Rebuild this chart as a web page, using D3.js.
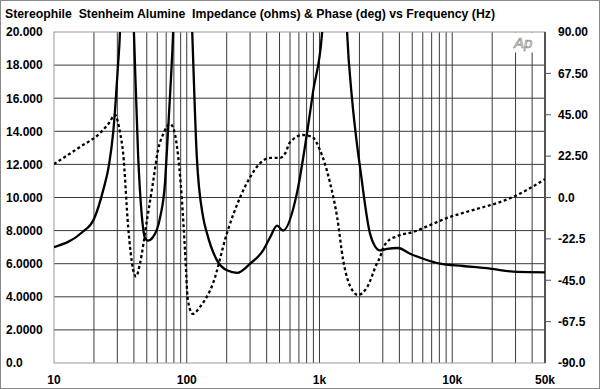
<!DOCTYPE html>
<html>
<head>
<meta charset="utf-8">
<script src="https://cdnjs.cloudflare.com/ajax/libs/d3/7.8.5/d3.min.js"></script>
<style>
  html, body { margin: 0; padding: 0; background: #fff; }
  svg text { font-family: "Liberation Sans", Arial, sans-serif; font-weight: bold; font-size: 12px; fill: #000; }
</style>
</head>
<body>
<svg id="chart" width="600" height="389"></svg>
<script>
// Impedance (ohms), [Hz, ohms]; resonance tops run off the chart
const impedance = [
  [10, 7.0], [16.3, 7.9], [20, 8.7], [23.4, 10.4], [26, 12.0], [27.9, 13.9], [30.3, 17.9],
  [31.4, 20], [33, 28], [35, 33], [37, 28], [40, 20], [43, 12.6], [46, 8.8], [48.5, 7.55],
  [51, 7.4], [55.6, 7.6], [63, 8.8], [68.6, 10.9], [71, 12.9], [75, 16.3], [79, 20],
  [85, 30], [92, 34], [100, 30], [110, 20], [119, 12.5], [133, 8.8], [142, 7.85],
  [169, 6.2], [201, 5.6], [240, 5.45], [300, 6.0], [376, 6.8], [425, 7.6], [479, 8.3],
  [532, 8.0], [678, 10.3], [806, 13.9], [895, 16.4], [1047, 20], [1200, 32], [1300, 36],
  [1450, 32], [1614, 20], [1762, 15.9], [1918, 13.2], [2023, 11.8], [2405, 7.8],
  [2600, 7.1], [2862, 6.8], [3228, 6.9], [3908, 6.95], [4816, 6.6], [6039, 6.3],
  [8113, 6.0], [12080, 5.86], [19300, 5.7], [30840, 5.5], [50000, 5.48]
];

// Phase (deg), [Hz, deg]
const phase = [
  [10, 18.2], [15.7, 27.5], [22.2, 35], [26, 40.5], [28.8, 45], [31.5, 35], [33.2, 24],
  [36.2, -16], [39.4, -39], [41.5, -43], [44.5, -35.6], [50.2, -12.2], [55.6, 7.9],
  [60.8, 25.8], [67, 35], [74.7, 40], [79, 38], [84.5, 27.5], [92, -1.4], [97, -28.5],
  [102, -55.7], [111, -63.3], [126, -59.5], [158, -46.5], [201, -19.3], [252, 0],
  [300, 11], [357, 18.7], [425, 21.5], [505, 21.5], [551, 24], [600, 30], [751, 34],
  [879, 33], [1009, 25.8], [1202, 7.9], [1358, -10.6], [1507, -34], [1762, -50.3],
  [1955, -53], [2286, -48.7], [2718, -35.6], [2862, -32.4], [3015, -27.5], [3228, -24.2],
  [3846, -21], [5072, -18.8], [6808, -15], [9160, -11.1], [12080, -8.4], [16200, -5.7],
  [21800, -3], [28770, 0.3], [38600, 5.1], [50000, 10]
];

const leftTicks = [0, 2, 4, 6, 8, 10, 12, 14, 16, 18, 20];
const leftLabels = ["0.0", "2.0000", "4.0000", "6.0000", "8.0000", "10.000", "12.000", "14.000", "16.000", "18.000", "20.000"];
const rightTicks = [-90, -67.5, -45, -22.5, 0, 22.5, 45, 67.5, 90];
const rightLabels = ["-90.0", "-67.5", "-45.0", "-22.5", "0.0", "22.50", "45.00", "67.50", "90.00"];
const xTicks = [10, 100, 1000, 10000, 50000];
const xLabels = ["10", "100", "1k", "10k", "50k"];
const title = "Stereophile  Stenheim Alumine  Impedance (ohms) & Phase (deg) vs Frequency (Hz)";

const svg = d3.select("#chart");
const L = 54, R = 545, T = 32, B = 363;

const x = d3.scaleLog().domain([10, 50000]).range([L, R]);
const yL = d3.scaleLinear().domain([0, 20]).range([B, T]);
const yR = d3.scaleLinear().domain([-90, 90]).range([B, T]);

// outer frame
svg.append("rect").attr("x", 0.5).attr("y", 0.5).attr("width", 599).attr("height", 388)
  .attr("fill", "none").attr("stroke", "#8a8a8a");

svg.append("text").attr("x", 5).attr("y", 18).style("white-space", "pre")
  .attr("textLength", 490).attr("lengthAdjust", "spacingAndGlyphs").text(title);

svg.append("defs").append("clipPath").attr("id", "plot")
  .append("rect").attr("x", L).attr("y", T).attr("width", R - L).attr("height", B - T);

// grid
const vLines = [];
for (let dec = 10; dec <= 10000; dec *= 10)
  for (let m = 1; m <= 9; m++) {
    const f = dec * m;
    if (f > 10 && f < 50000) vLines.push(f);
  }
for (const f of [20000, 30000, 40000]) if (!vLines.includes(f)) vLines.push(f);

const grid = svg.append("g");
grid.selectAll("line.v").data(vLines).join("line").attr("class", "v")
  .attr("x1", d => x(d)).attr("x2", d => x(d)).attr("y1", T).attr("y2", B)
  .attr("stroke", "#3a3a3a").attr("stroke-width", 1);
grid.selectAll("line.h").data(leftTicks.slice(1, -1)).join("line").attr("class", "h")
  .attr("x1", L).attr("x2", R).attr("y1", d => yL(d)).attr("y2", d => yL(d))
  .attr("stroke", "#3a3a3a").attr("stroke-width", 1);

// white patch behind the Ap logo
svg.append("rect").attr("x", 504).attr("y", T + 0.5).attr("width", 38).attr("height", 20).attr("fill", "#fff");
svg.append("text").attr("x", 514).attr("y", 48)
  .style("font-style", "italic").style("font-weight", "normal").style("font-size", "15px")
  .style("fill", "#fff").style("stroke", "#8a8a8a").style("stroke-width", 0.7).text("Ap");

// plot frame
svg.append("rect").attr("x", L).attr("y", T).attr("width", R - L).attr("height", B - T)
  .attr("fill", "none").attr("stroke", "#999");
svg.append("line").attr("x1", R).attr("x2", R).attr("y1", T).attr("y2", B)
  .attr("stroke", "#555").attr("stroke-width", 2);

// right axis ticks
svg.selectAll("line.rt").data(rightTicks.slice(1, -1)).join("line").attr("class", "rt")
  .attr("x1", R).attr("x2", R + 6).attr("y1", d => yR(d)).attr("y2", d => yR(d))
  .attr("stroke", "#555");

// labels
svg.selectAll("text.yl").data(leftTicks).join("text").attr("class", "yl")
  .attr("x", 6).attr("y", d => yL(d)).attr("dy", "0.36em").text((d, i) => leftLabels[i]);
svg.selectAll("text.yr").data(rightTicks).join("text").attr("class", "yr")
  .attr("x", 558).attr("y", d => yR(d)).attr("dy", "0.36em").text((d, i) => rightLabels[i]);
svg.selectAll("text.xl").data(xTicks).join("text").attr("class", "xl")
  .attr("x", d => x(d)).attr("y", 384).attr("text-anchor", "middle").text((d, i) => xLabels[i]);

// curves
const curves = svg.append("g").attr("clip-path", "url(#plot)");
curves.append("path").datum(phase)
  .attr("d", d3.line().x(d => x(d[0])).y(d => yR(d[1])).curve(d3.curveMonotoneX))
  .attr("fill", "none").attr("stroke", "#000").attr("stroke-width", 2.3)
  .attr("stroke-dasharray", "3,2.6");
curves.append("path").datum(impedance)
  .attr("d", d3.line().x(d => x(d[0])).y(d => yL(d[1])).curve(d3.curveMonotoneX))
  .attr("fill", "none").attr("stroke", "#000").attr("stroke-width", 2.3);
</script>
</body>
</html>
